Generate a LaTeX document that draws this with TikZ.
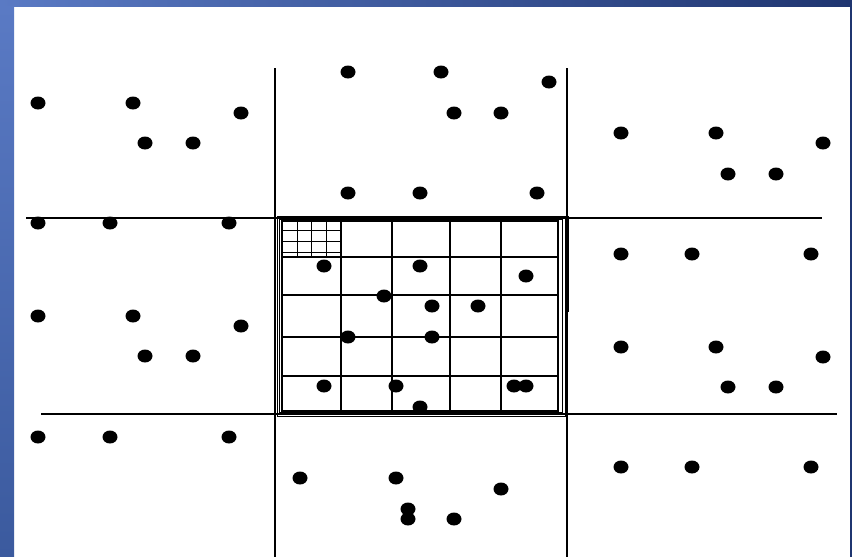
\documentclass[tikz,border=0pt]{standalone}
\usepackage{tikz}
\usetikzlibrary{positioning,shapes.geometric}

\definecolor{barlight}{HTML}{5A7AC4}
\definecolor{bardark}{HTML}{1F3570}
\definecolor{barleft}{HTML}{3B5A9E}

\begin{document}
\begin{tikzpicture}[x=1pt,y=-1pt]
    \tikzstyle{dot}=[ellipse,fill=black,inner sep=0pt,minimum width=15pt,minimum height=13pt]
    \tikzstyle{cut}=[line width=1.3pt]
    \tikzstyle{grid}=[line width=1.4pt]
    \useasboundingbox (0,0) rectangle (852,557);
    % frame of the slide
    \fill[white] (0,0) rectangle (852,557);
    \shade[left color=barlight,right color=bardark] (0,0) rectangle (852,6);
    \shade[top color=barlight,bottom color=barleft] (0,6) rectangle (14,557);
    \fill[bardark] (850,6) rectangle (852,557);

    % the four cutting lines
    \draw[cut] (275,68) -- (275,557);
    \draw[cut] (567,68) -- (567,557);
    \draw[cut] (26,218) -- (822,218);
    \draw[cut] (41,414) -- (837,414);

    % the middle cell, drawn several times
    \draw[line width=1pt] (277,216) rectangle (565,416);
    \draw[line width=1pt] (279,219.5) rectangle (562,412.5);
    \draw[grid] (282,221) rectangle (558,411);
    \draw[line width=2.8pt] (567.5,216) -- (567.5,312);
    \draw[grid] (341,221) -- (341,411) (392,221) -- (392,411)
                (450,221) -- (450,411) (501,221) -- (501,411);
    \draw[grid] (282,257) -- (558,257) (282,295) -- (558,295)
                (282,337) -- (558,337) (282,376) -- (558,376);
    % finer grid in one corner
    \draw[line width=1pt] (297,221) -- (297,257) (311,221) -- (311,257)
                (326,221) -- (326,257);
    \draw[line width=1pt] (282,230) -- (341,230) (282,241) -- (341,241)
                (282,252) -- (341,252);

    % points
    \foreach \n/\x/\y in {a1/38/103, a2/133/103, a3/241/113, a4/145/143, a5/193/143,
        b1/348/72, b2/441/72, b3/549/82, b4/454/113, b5/501/113, b6/348/193, b7/420/193, b8/537/193,
        c1/621/133, c2/716/133, c3/823/143, c4/728/174, c5/776/174,
        d1/38/223, d2/110/223, d3/229/223, d4/38/316, d5/133/316, d6/241/326, d7/145/356, d8/193/356,
        e1/324/266, e2/420/266, e3/526/276, e4/384/296, e5/432/306, e6/478/306, e7/348/337,
        e8/432/337, e9/324/386, e10/396/386, e11/514/386, e12/526/386, e13/420/407,
        f1/621/254, f2/692/254, f3/811/254, f4/621/347, f5/716/347, f6/823/357, f7/728/387, f8/776/387,
        g1/38/437, g2/110/437, g3/229/437,
        h1/300/478, h2/396/478, h3/501/489, h4/408/509, h5/408/519, h6/454/519,
        k1/621/467, k2/692/467, k3/811/467}
      \node[dot] (\n) at (\x,\y) {};
\end{tikzpicture}
\end{document}
